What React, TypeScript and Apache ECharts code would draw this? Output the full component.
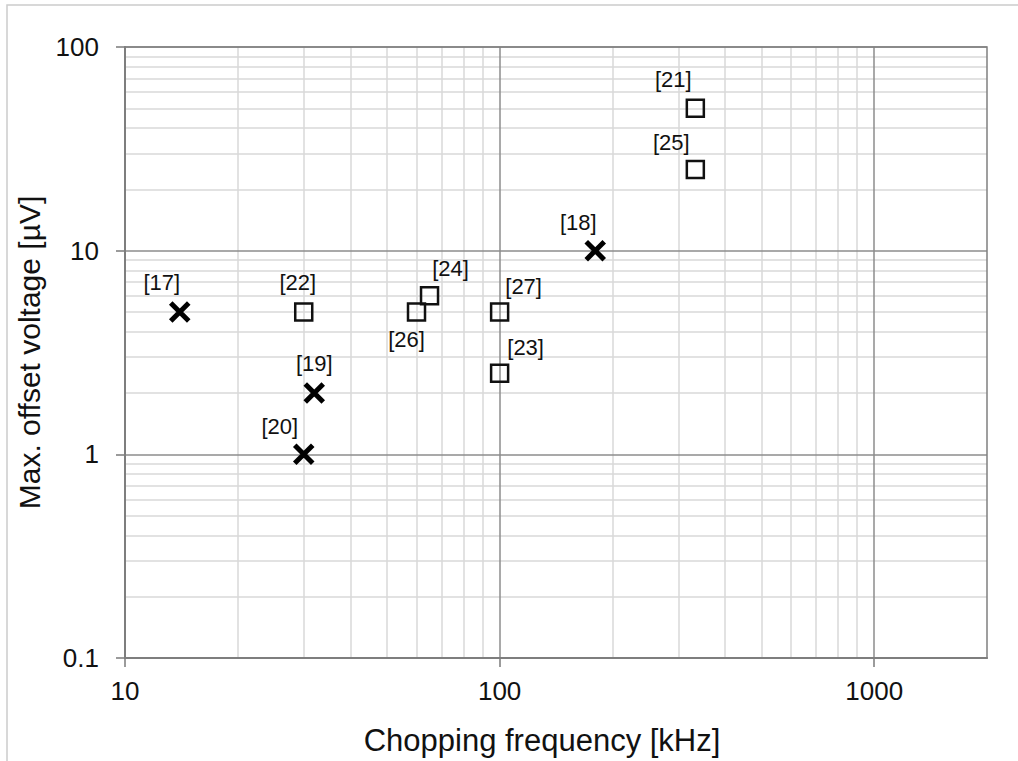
import React, { useEffect, useRef } from "react";
import * as echarts from "echarts";

// ---- data ----
const crossLabels = ["[17]", "[19]", "[20]", "[18]"];
const crossFreq = [14, 32, 30, 180];
const crossOffset = [5, 2, 1, 10];

const squareLabels = ["[22]", "[26]", "[24]", "[27]", "[23]", "[21]", "[25]"];
const squareFreq = [30, 60, 65, 100, 100, 333, 333];
const squareOffset = [5, 5, 6, 5, 2.5, 50, 25];

const xMajorTicks = [10, 100, 1000];
const xMinorGrid = [20, 30, 40, 50, 60, 70, 80, 90, 200, 300, 400, 500, 600, 700, 800, 900];
const yMinorGrid = [0.2, 0.3, 0.4, 0.5, 0.6, 0.7, 0.8, 0.9, 2, 3, 4, 5, 6, 7, 8, 9, 20, 30, 40, 50, 60, 70, 80, 90];

const xTitle = "Chopping frequency [kHz]";
const yTitle = "Max. offset voltage [µV]";

// label placement (styling, px offsets from the marker centre)
const labelPlacement: Record<string, [number, number]> = {
  "[17]": [-18, -29],
  "[19]": [0, -30],
  "[20]": [-24, -28],
  "[18]": [-17, -28],
  "[22]": [-6, -29],
  "[26]": [-10, 28],
  "[24]": [21, -27],
  "[27]": [24, -25],
  "[23]": [26, -26],
  "[21]": [-22, -29],
  "[25]": [-24, -27],
};

const FONT = "'Liberation Sans', Arial, Helvetica, sans-serif";
const TEXT = "#111111";

export default function App() {
  const ref = useRef<HTMLDivElement>(null);

  useEffect(() => {
    if (!ref.current) return;
    const chart = echarts.init(ref.current, undefined, { renderer: "svg" });

    const labelStyle = (name: string) => ({
      show: true,
      position: "inside",
      offset: labelPlacement[name] || [0, -28],
      formatter: name,
      color: TEXT,
      fontSize: 22,
      fontFamily: FONT,
    });

    const crossData = crossFreq.map((x, i) => ({
      name: crossLabels[i],
      value: [x, crossOffset[i]],
      label: labelStyle(crossLabels[i]),
    }));
    const squareData = squareFreq.map((x, i) => ({
      name: squareLabels[i],
      value: [x, squareOffset[i]],
      label: labelStyle(squareLabels[i]),
    }));

    const fmt = (v: number) => String(parseFloat(Number(v).toPrecision(3)));

    chart.setOption({
      animation: false,
      backgroundColor: "#ffffff",
      textStyle: { fontFamily: FONT, color: TEXT },
      graphic: [
        {
          type: "rect",
          shape: { x: 7, y: 5, width: 1100, height: 900 },
          style: { fill: "none", stroke: "#cccccc", lineWidth: 1.5 },
          silent: true,
          z: -10,
        },
      ],
      grid: {
        left: 125,
        top: 47,
        right: 31,
        bottom: 102,
        show: true,
        borderColor: "#808080",
        borderWidth: 1.5,
        backgroundColor: "transparent",
        z: 4,
      },
      xAxis: {
        type: "log",
        logBase: 10,
        min: 10,
        max: 2000,
        z: 3,
        name: xTitle,
        nameLocation: "middle",
        nameGap: 67,
        nameTextStyle: { fontSize: 31, color: TEXT, fontFamily: FONT, padding: [0, 28, 0, 0] },
        axisLine: { show: true, lineStyle: { color: "#7a7a7a", width: 2 } },
        axisTick: { show: true, inside: false, length: 9, customValues: xMajorTicks, lineStyle: { color: "#7a7a7a", width: 1.5 } },
        axisLabel: { show: true, customValues: xMajorTicks, margin: 20, fontSize: 26, color: TEXT, fontFamily: FONT, formatter: fmt },
        splitLine: { show: true, lineStyle: { color: "#8c8c8c", width: 1.5 } },
        minorTick: { show: false },
        minorSplitLine: { show: false },
      },
      yAxis: {
        type: "log",
        logBase: 10,
        min: 0.1,
        max: 100,
        z: 3,
        name: yTitle,
        nameLocation: "middle",
        nameGap: 70,
        nameTextStyle: { fontSize: 30, color: TEXT, fontFamily: FONT },
        axisLine: { show: true, lineStyle: { color: "#7a7a7a", width: 2 } },
        axisTick: { show: true, inside: false, length: 9, lineStyle: { color: "#7a7a7a", width: 1.5 } },
        axisLabel: { show: true, margin: 26, fontSize: 26, color: TEXT, fontFamily: FONT, formatter: fmt },
        splitLine: { show: true, lineStyle: { color: "#8c8c8c", width: 1.5 } },
        minorTick: { show: false },
        minorSplitLine: { show: false },
      },
      series: [
        {
          type: "scatter",
          name: "minor grid",
          data: [],
          silent: true,
          z: 1,
          markLine: {
            silent: true,
            z: 1,
            symbol: ["none", "none"],
            label: { show: false },
            emphasis: { disabled: true },
            lineStyle: { color: "#d9d9d9", width: 1.5, type: "solid" },
            data: [
              ...xMinorGrid.map((v) => ({ xAxis: v })),
              ...yMinorGrid.map((v) => ({ yAxis: v })),
            ],
          },
        },
        {
          type: "scatter",
          name: "cross",
          z: 6,
          symbol: "path://M0,0L10,10M10,0L0,10",
          symbolSize: 18,
          itemStyle: { color: "transparent", borderColor: "#000000", borderWidth: 5, opacity: 1 },
          data: crossData,
        },
        {
          type: "scatter",
          name: "square",
          z: 6,
          symbol: "rect",
          symbolSize: 17,
          itemStyle: { color: "transparent", borderColor: "#111111", borderWidth: 2.5, opacity: 1 },
          data: squareData,
        },
      ],
    });

    return () => chart.dispose();
  }, []);

  return (
    <div
      ref={ref}
      style={{ position: "absolute", left: 0, top: 0, width: 1018, height: 761 }}
    />
  );
}
